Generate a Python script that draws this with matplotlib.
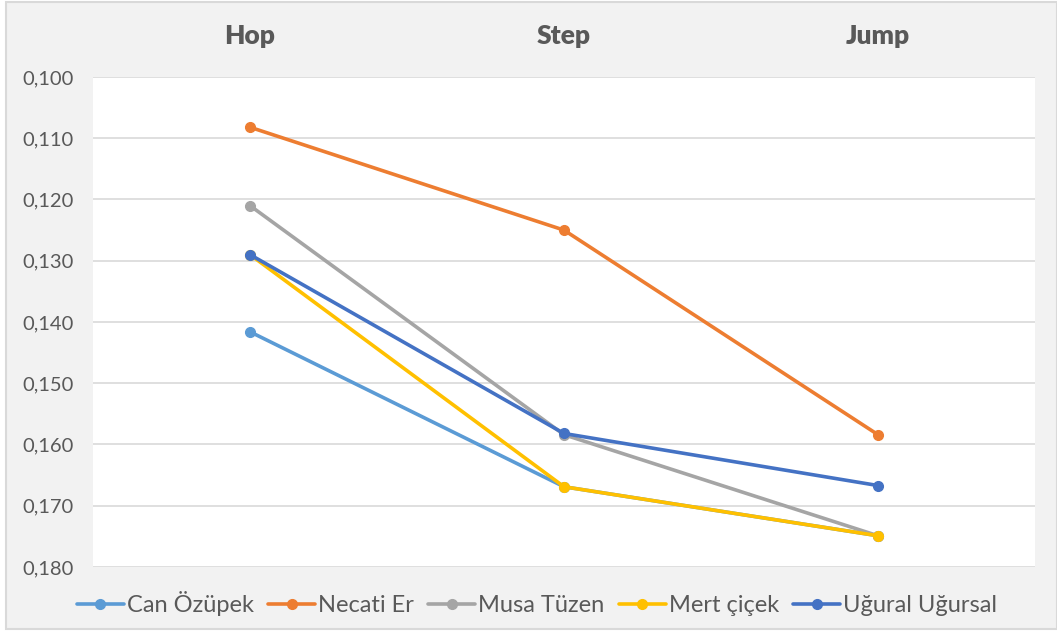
import matplotlib
matplotlib.use("Agg")
import matplotlib.pyplot as plt
from matplotlib.patches import Rectangle
from matplotlib.ticker import FuncFormatter

plt.rcParams['font.family'] = ['Lato', 'DejaVu Sans']

phases = ['Hop', 'Step', 'Jump']
can_ozupek = [0.1416, 0.1669, 0.1749]
necati_er = [0.1082, 0.1250, 0.1584]
musa_tuzen = [0.1210, 0.1584, 0.1749]
mert_cicek = [0.1290, 0.1669, 0.1749]
ugural_ugursal = [0.1290, 0.1582, 0.1667]

series = [
    ('Can Özüpek', can_ozupek, '#5B9BD5'),
    ('Necati Er', necati_er, '#ED7D31'),
    ('Musa Tüzen', musa_tuzen, '#A5A5A5'),
    ('Mert çiçek', mert_cicek, '#FFC000'),
    ('Uğural Uğursal', ugural_ugursal, '#4472C4'),
]

W, H = 1057, 632
fig = plt.figure(figsize=(W / 100, H / 100), dpi=100, facecolor='white')

# chart frame, kept behind the axes
fig.patches.append(Rectangle((6 / W, 1 - 629 / H), (W - 6) / W, 627 / H,
                             transform=fig.transFigure, facecolor='#F2F2F2',
                             edgecolor='#D9D9D9', linewidth=1.5, zorder=-5))

ax = fig.add_axes([93 / W, 1 - 567 / H, (1035 - 93) / W, (567 - 77) / H])
ax.set_facecolor('white')

x = list(range(len(phases)))
for name, vals, col in series:
    ax.plot(x, vals, color=col, lw=2.6, marker='o', ms=7, label=name,
            solid_capstyle='round')

ax.set_xlim(-0.5, len(phases) - 0.5)
ax.set_ylim(0.180, 0.100)
ax.set_yticks([0.10 + 0.01 * i for i in range(9)])
ax.yaxis.set_major_formatter(FuncFormatter(lambda v, p: f'{v:.3f}'.replace('.', ',')))
ax.grid(axis='y', color='#D9D9D9', lw=1.2)
ax.set_axisbelow(True)
for s in ax.spines.values():
    s.set_visible(False)

ax.xaxis.tick_top()
ax.set_xticks(x)
ax.set_xticklabels(phases, fontsize=19, fontweight='heavy', color='#595959')
ax.tick_params(axis='x', length=0, pad=21)
ax.tick_params(axis='y', length=0, labelsize=14.5, labelcolor='#595959', pad=14)

leg = fig.legend(loc='center', bbox_to_anchor=(537 / W, 1 - 604 / H), ncol=5,
                 frameon=False, fontsize=17, handlelength=2.0,
                 handletextpad=0.12, columnspacing=0.6, labelcolor='#595959')

fig.savefig('out.png', dpi=100, facecolor='white')
